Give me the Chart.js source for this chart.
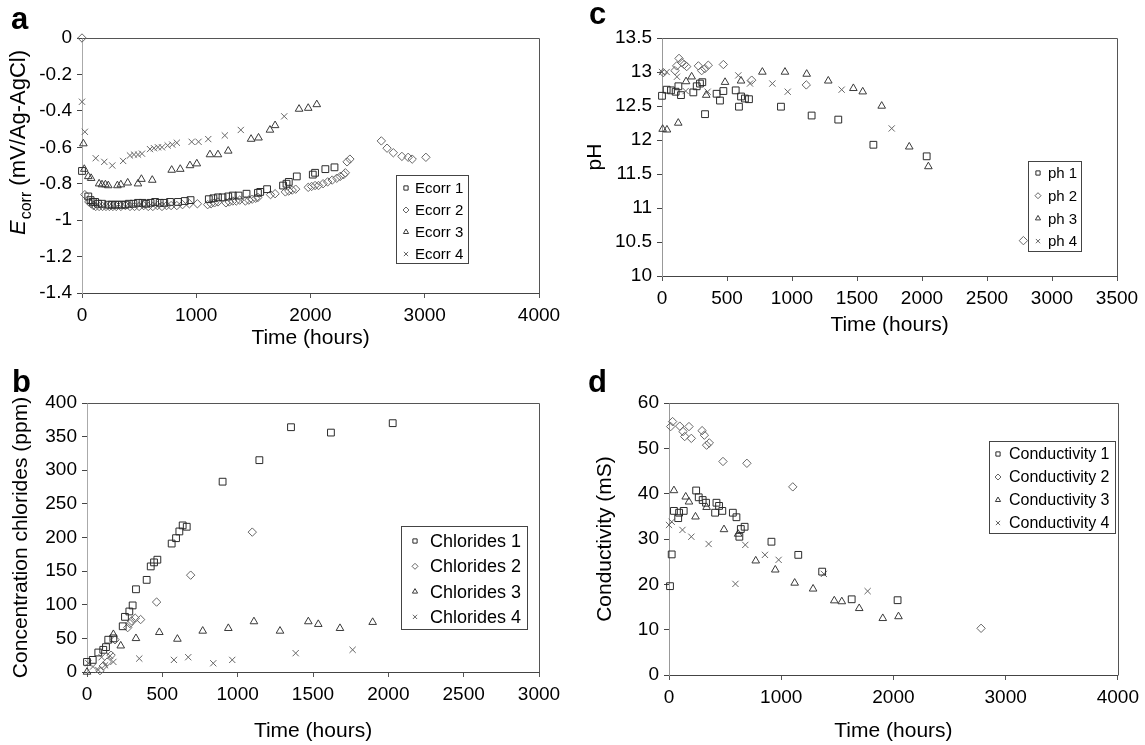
<!DOCTYPE html>
<html>
<head>
<meta charset="utf-8">
<script src="https://cdn.jsdelivr.net/npm/chart.js@4.4.1/dist/chart.umd.min.js"></script>
<style>
  html, body { margin: 0; padding: 0; background: #fff; }
  #wrap { position: relative; width: 1145px; height: 745px; overflow: hidden; }
  canvas { position: absolute; }
  .tag { position: absolute; font: bold 31px "Liberation Sans", Arial, sans-serif; line-height: 30px; color: #000; }
</style>
</head>
<body>
<div id="wrap">
  <canvas id="chartA" width="572" height="360" style="left:0;top:0"></canvas>
  <canvas id="chartC" width="573" height="360" style="left:572px;top:0"></canvas>
  <canvas id="chartB" width="572" height="385" style="left:0;top:360px"></canvas>
  <canvas id="chartD" width="573" height="385" style="left:572px;top:360px"></canvas>
  <div class="tag" style="left:11px;top:4px">a</div>
  <div class="tag" style="left:589px;top:-1px">c</div>
  <div class="tag" style="left:12px;top:367px">b</div>
  <div class="tag" style="left:588px;top:367px">d</div>
</div>
<script>
// Textos de ejes
const timeTitle = "Time (hours)";
const ecorrTitleParts = ["E", "corr", " (mV/Ag-AgCl)"];
const phTitle = "pH";
const chloridesTitle = "Concentration chlorides (ppm)";
const conductivityTitle = "Conductivity (mS)";

// Etiquetas de series
const ecorrLabels = ["Ecorr 1", "Ecorr 2", "Ecorr 3", "Ecorr 4"];
const phLabels = ["ph 1", "ph 2", "ph 3", "ph 4"];
const chloridesLabels = ["Chlorides 1", "Chlorides 2", "Chlorides 3", "Chlorides 4"];
const conductivityLabels = ["Conductivity 1", "Conductivity 2", "Conductivity 3", "Conductivity 4"];

// Marcas de ejes
const ecorrYTicks = [0, -0.2, -0.4, -0.6, -0.8, -1, -1.2, -1.4];
const ecorrXTicks = [0, 1000, 2000, 3000, 4000];
const phYTicks = [10, 10.5, 11, 11.5, 12, 12.5, 13, 13.5];
const phXTicks = [0, 500, 1000, 1500, 2000, 2500, 3000, 3500];
const chloridesYTicks = [0, 50, 100, 150, 200, 250, 300, 350, 400];
const chloridesXTicks = [0, 500, 1000, 1500, 2000, 2500, 3000];
const conductivityYTicks = [0, 10, 20, 30, 40, 50, 60];
const conductivityXTicks = [0, 1000, 2000, 3000, 4000];

// Panel a: Ecorr
const ecorr1X = [0, 55, 75, 95, 115, 140, 175, 230, 260, 290,
  320, 350, 380, 410, 450, 490, 530, 560, 600, 640,
  680, 720, 770, 840, 900, 950, 1110, 1150, 1190, 1230,
  1280, 1320, 1370, 1440, 1540, 1560, 1620, 1760, 1790, 1810,
  1880, 2020, 2040, 2130, 2210];
const ecorr1Y = [-0.73, -0.87, -0.89, -0.9, -0.9, -0.91, -0.91, -0.915, -0.915, -0.915,
  -0.915, -0.915, -0.915, -0.91, -0.91, -0.905, -0.905, -0.91, -0.905, -0.9,
  -0.905, -0.905, -0.9, -0.9, -0.895, -0.89, -0.885, -0.88, -0.875, -0.875,
  -0.87, -0.865, -0.865, -0.855, -0.85, -0.845, -0.83, -0.81, -0.8, -0.79,
  -0.76, -0.75, -0.74, -0.72, -0.71];
const ecorr2X = [0, 25, 60, 80, 100, 120, 150, 180, 210, 240,
  270, 300, 340, 380, 420, 460, 500, 540, 580, 620,
  660, 700, 740, 780, 830, 880, 940, 1010, 1100, 1130,
  1160, 1190, 1260, 1290, 1320, 1350, 1380, 1430, 1460, 1490,
  1520, 1540, 1650, 1690, 1780, 1810, 1840, 1870, 1980, 2010,
  2040, 2070, 2110, 2150, 2190, 2230, 2260, 2290, 2305, 2320,
  2345, 2620, 2670, 2725, 2800, 2855, 2890, 3010];
const ecorr2Y = [0, -0.86, -0.9, -0.91, -0.92, -0.925, -0.925, -0.925, -0.925, -0.925,
  -0.925, -0.925, -0.925, -0.92, -0.925, -0.925, -0.925, -0.92, -0.925, -0.925,
  -0.92, -0.925, -0.92, -0.92, -0.92, -0.915, -0.91, -0.91, -0.915, -0.91,
  -0.905, -0.9, -0.905, -0.9, -0.895, -0.895, -0.89, -0.895, -0.89, -0.885,
  -0.88, -0.875, -0.86, -0.855, -0.845, -0.84, -0.835, -0.83, -0.82, -0.815,
  -0.81, -0.81, -0.8, -0.79, -0.78, -0.77, -0.76, -0.75, -0.74, -0.68,
  -0.665, -0.565, -0.605, -0.63, -0.65, -0.655, -0.665, -0.655];
const ecorr3X = [12, 20, 55, 80, 150, 175, 205, 230, 310, 340,
  400, 490, 520, 615, 785, 860, 945, 1005, 1120, 1190,
  1280, 1480, 1545, 1645, 1690, 1900, 1980, 2055];
const ecorr3Y = [-0.58, -0.72, -0.76, -0.77, -0.8, -0.805, -0.805, -0.81, -0.81, -0.805,
  -0.795, -0.8, -0.775, -0.78, -0.725, -0.72, -0.7, -0.69, -0.64, -0.64,
  -0.62, -0.555, -0.548, -0.505, -0.48, -0.39, -0.385, -0.365];
const ecorr4X = [0, 25, 120, 195, 265, 360, 420, 455, 490, 525,
  595, 630, 665, 700, 750, 790, 830, 960, 1020, 1105,
  1250, 1390, 1770];
const ecorr4Y = [-0.35, -0.515, -0.66, -0.68, -0.7, -0.675, -0.645, -0.64, -0.64, -0.635,
  -0.61, -0.605, -0.6, -0.6, -0.59, -0.585, -0.575, -0.57, -0.57, -0.555,
  -0.535, -0.505, -0.43];

// Panel c: pH
const ph1X = [0, 36, 69, 105, 126, 146, 241, 267, 292, 310, 331, 420, 446, 472, 567, 592, 608, 638, 669, 915, 1151, 1356, 1626, 2036];
const ph1Y = [12.65, 12.74, 12.73, 12.71, 12.79, 12.66, 12.7, 12.79, 12.83, 12.85, 12.38, 12.68, 12.58, 12.72, 12.73, 12.49, 12.64, 12.61, 12.6, 12.49, 12.36, 12.3, 11.93, 11.76];
const ph2X = [10, 100, 113, 131, 151, 171, 190, 280, 305, 330, 356, 472, 690, 1110, 2780];
const ph2Y = [12.99, 13.02, 13.09, 13.2, 13.14, 13.11, 13.08, 13.09, 13.02, 13.05, 13.1, 13.11, 12.88, 12.81, 10.52];
const ph3X = [5, 38, 125, 185, 228, 340, 485, 608, 772, 946, 1113, 1279, 1472, 1544, 1690, 1902, 2049];
const ph3Y = [12.16, 12.15, 12.25, 12.86, 12.93, 12.66, 12.85, 12.87, 13.0, 13.0, 12.97, 12.87, 12.76, 12.71, 12.5, 11.9, 11.61];
const ph4X = [0, 36, 115, 182, 351, 587, 677, 849, 967, 1382, 1767];
const ph4Y = [13.0, 13.0, 12.93, 12.72, 12.71, 12.95, 12.83, 12.83, 12.71, 12.74, 12.17];

// Panel b: cloruros
const chlorides1X = [0, 38, 75, 108, 126, 141, 175, 237, 252, 281, 303, 325, 396, 423, 445, 467, 562, 591, 613, 635, 662, 900, 1144, 1354, 1619, 2029];
const chlorides1Y = [15, 18, 29, 33, 37, 48, 50, 68, 82, 90, 99, 123, 137, 157, 163, 167, 191, 199, 209, 218, 216, 283, 315, 364, 356, 370];
const chlorides2X = [86, 108, 135, 160, 186, 270, 285, 296, 320, 356, 462, 688, 1097];
const chlorides2Y = [2, 9, 15, 25, 48, 66, 72, 76, 80, 78, 104, 144, 208];
const chlorides3X = [0, 175, 224, 325, 480, 600, 768, 938, 1108, 1281, 1469, 1535, 1679, 1896];
const chlorides3Y = [0, 56, 39, 50, 59, 49, 61, 65, 75, 61, 75, 71, 65, 74];
const chlorides4X = [9, 40, 75, 97, 120, 153, 175, 347, 577, 672, 838, 964, 1385, 1763];
const chlorides4Y = [13, 8, 3, 22, 10, 24, 15, 20, 18, 22, 13, 18, 28, 33];

// Panel d: conductividad
const conductivity1X = [9, 24, 44, 82, 90, 131, 242, 265, 300, 330, 411, 423, 446, 475, 569, 601, 627, 640, 674, 913, 1152, 1365, 1628, 2037];
const conductivity1Y = [19.6, 26.6, 36.2, 34.6, 35.8, 36.2, 40.7, 39.2, 38.6, 38, 35.8, 38, 37.3, 36.2, 35.8, 34.8, 30.5, 32.2, 32.7, 29.4, 26.5, 22.8, 16.7, 16.5];
const conductivity2X = [15, 32, 96, 125, 140, 178, 199, 295, 315, 335, 359, 481, 694, 1103, 2781];
const conductivity2Y = [54.8, 55.9, 54.9, 53.7, 52.6, 54.8, 52.2, 53.9, 52.9, 50.7, 51.2, 47.1, 46.7, 41.5, 10.3];
const conductivity3X = [44, 149, 178, 236, 335, 490, 616, 773, 947, 1120, 1284, 1473, 1540, 1695, 1905, 2045];
const conductivity3Y = [40.7, 39.3, 38.2, 34.9, 37, 32.1, 31.1, 25.2, 23.2, 20.3, 19, 16.4, 16.2, 14.7, 12.5, 12.9];
const conductivity4X = [0, 24, 120, 199, 353, 592, 680, 855, 977, 1380, 1770];
const conductivity4Y = [33.1, 33.8, 32, 30.5, 28.9, 20.1, 28.7, 26.5, 25.4, 22.3, 18.5];

const FONT = '"Liberation Sans", Arial, Helvetica, sans-serif';

// Estilo de marcadores: cuadrado, rombo, triángulo, cruz
const markerStyles = [
  { pointStyle: "rect", radius: 4.8, color: "#2b2b2b" },
  { pointStyle: "rectRot", radius: 4.2, color: "#666" },
  { pointStyle: "triangle", radius: 4.4, color: "#3a3a3a" },
  { pointStyle: "crossRot", radius: 4.4, color: "#666" }
];

// Dibujar un marcador pequeño (para la leyenda)
const drawMarker = (ctx, style, x, y, r) => {
  ctx.beginPath();
  if (style === "rect") {
    const s = r * Math.SQRT1_2;
    ctx.rect(x - s, y - s, 2 * s, 2 * s);
  } else if (style === "rectRot") {
    ctx.moveTo(x, y - r); ctx.lineTo(x + r, y); ctx.lineTo(x, y + r); ctx.lineTo(x - r, y); ctx.closePath();
  } else if (style === "triangle") {
    const w = r * Math.sin(Math.PI / 3);
    ctx.moveTo(x, y - r); ctx.lineTo(x + w, y + r / 2); ctx.lineTo(x - w, y + r / 2); ctx.closePath();
  } else {
    const s = r * Math.SQRT1_2;
    ctx.moveTo(x - s, y - s); ctx.lineTo(x + s, y + s);
    ctx.moveTo(x + s, y - s); ctx.lineTo(x - s, y + s);
  }
  ctx.stroke();
};

// Marco superior y derecho del área de trazado
const frame = {
  id: "frame",
  beforeDatasetsDraw(chart) {
    const { ctx, chartArea: a } = chart;
    ctx.save();
    ctx.strokeStyle = "#555";
    ctx.lineWidth = 1;
    ctx.beginPath();
    ctx.moveTo(Math.round(a.left) + 0.5, Math.round(a.top) + 0.5);
    ctx.lineTo(Math.round(a.right) + 0.5, Math.round(a.top) + 0.5);
    ctx.lineTo(Math.round(a.right) + 0.5, Math.round(a.bottom) + 0.5);
    ctx.stroke();
    ctx.restore();
  }
};

// Leyenda con caja dentro del gráfico
const boxLegend = {
  id: "boxLegend",
  afterDraw(chart, args, o) {
    if (!o || o.x === undefined) return;
    const ctx = chart.ctx;
    ctx.save();
    ctx.fillStyle = "#fff";
    ctx.fillRect(o.x, o.y, o.w, o.h);
    ctx.strokeStyle = "#444";
    ctx.lineWidth = 1;
    ctx.strokeRect(o.x + 0.5, o.y + 0.5, o.w, o.h);
    ctx.font = `${o.size}px ${FONT}`;
    ctx.textBaseline = "middle";
    chart.data.datasets.forEach((ds, i) => {
      const cy = o.y + o.first + i * o.step;
      ctx.strokeStyle = ds.borderColor;
      ctx.lineWidth = 1;
      drawMarker(ctx, ds.pointStyle, o.mx, cy, o.mr);
      ctx.fillStyle = "#000";
      ctx.fillText(ds.label, o.tx, cy + 1);
    });
    ctx.restore();
  }
};

// Título del eje Y con subíndice (panel a)
const ecorrTitle = {
  id: "ecorrTitle",
  afterDraw(chart, args, o) {
    const ctx = chart.ctx;
    const [main, sub, rest] = ecorrTitleParts;
    const f1 = `italic ${o.size}px ${FONT}`;
    const f2 = `${Math.round(o.size * 0.72)}px ${FONT}`;
    const f3 = `${o.size}px ${FONT}`;
    ctx.save();
    ctx.font = f1; const w1 = ctx.measureText(main).width;
    ctx.font = f2; const w2 = ctx.measureText(sub).width;
    ctx.font = f3; const w3 = ctx.measureText(rest).width;
    ctx.translate(o.x, o.y);
    ctx.rotate(-Math.PI / 2);
    ctx.fillStyle = "#000";
    let x = -(w1 + w2 + w3) / 2;
    const base = o.size * 0.36;
    ctx.font = f1; ctx.fillText(main, x, base); x += w1 + 1;
    ctx.font = f2; ctx.fillText(sub, x, base + o.size * 0.28); x += w2;
    ctx.font = f3; ctx.fillText(rest, x, base);
    ctx.restore();
  }
};

Chart.register(frame, boxLegend);

const makeSets = (labels, xs, ys) => labels.map((label, i) => ({
  label,
  data: xs[i].map((x, j) => ({ x, y: ys[i][j] })),
  pointStyle: markerStyles[i].pointStyle,
  pointRadius: markerStyles[i].radius,
  pointHoverRadius: markerStyles[i].radius,
  borderColor: markerStyles[i].color,
  backgroundColor: "rgba(255,255,255,0)",
  borderWidth: 1,
  clip: false
}));

const makeAxis = (ticks, min, max, o) => ({
  type: "linear",
  min, max,
  afterBuildTicks: (s) => { s.ticks = ticks.map((v) => ({ value: v })); },
  afterFit: (s) => {
    if (o.width) s.width = o.width;
    if (o.height) s.height = o.height;
  },
  grid: { drawOnChartArea: false, drawTicks: true, tickLength: 5, color: o.tickColor },
  border: { color: o.lineColor, width: 1 },
  ticks: {
    color: "#000",
    font: { family: FONT, size: 19 },
    padding: o.pad,
    autoSkip: false,
    maxRotation: 0,
    callback: (v) => String(v)
  },
  title: o.title
    ? { display: true, text: o.title, color: "#000", font: { family: FONT, size: 21 }, padding: o.titlePad }
    : { display: false }
});

const makePanel = (id, cfg) => new Chart(document.getElementById(id), {
  type: "scatter",
  data: { datasets: makeSets(cfg.labels, cfg.xs, cfg.ys) },
  options: {
    responsive: false,
    animation: false,
    events: [],
    layout: { padding: cfg.padding },
    scales: { x: cfg.x, y: cfg.y },
    plugins: {
      legend: { display: false },
      tooltip: { enabled: false },
      boxLegend: cfg.legend,
      ecorrTitle: cfg.ecorrTitle || {}
    }
  },
  plugins: cfg.extra || []
});

// Panel a
makePanel("chartA", {
  labels: ecorrLabels,
  xs: [ecorr1X, ecorr2X, ecorr3X, ecorr4X],
  ys: [ecorr1Y, ecorr2Y, ecorr3Y, ecorr4Y],
  padding: { left: 0, top: 38, right: 33, bottom: 0 },
  x: makeAxis(ecorrXTicks, 0, 4000, { height: 67, tickColor: "#555", lineColor: "#444", pad: 6, title: timeTitle, titlePad: { top: 0, bottom: 9 } }),
  y: makeAxis(ecorrYTicks, -1.4, 0, { width: 82, tickColor: "#444", lineColor: "#aaa", pad: 5 }),
  legend: { x: 396, y: 175, w: 72, h: 88, first: 13, step: 22, mx: 406, mr: 3, tx: 415, size: 15 },
  ecorrTitle: { x: 17, y: 143, size: 22 },
  extra: [ecorrTitle]
});

// Panel c
makePanel("chartC", {
  labels: phLabels,
  xs: [ph1X, ph2X, ph3X, ph4X],
  ys: [ph1Y, ph2Y, ph3Y, ph4Y],
  padding: { left: 0, top: 38, right: 28, bottom: 0 },
  x: makeAxis(phXTicks, 0, 3500, { height: 84, tickColor: "#555", lineColor: "#444", pad: 6, title: timeTitle, titlePad: { top: 0, bottom: 22 } }),
  y: makeAxis(phYTicks, 10, 13.5, { width: 90, tickColor: "#444", lineColor: "#999", pad: 5, title: phTitle, titlePad: { top: 11, bottom: 0 } }),
  legend: { x: 456, y: 161, w: 53, h: 90, first: 12, step: 22.7, mx: 466, mr: 3, tx: 476, size: 15 }
});

// Panel b
makePanel("chartB", {
  labels: chloridesLabels,
  xs: [chlorides1X, chlorides2X, chlorides3X, chlorides4X],
  ys: [chlorides1Y, chlorides2Y, chlorides3Y, chlorides4Y],
  padding: { left: 0, top: 43, right: 33, bottom: 0 },
  x: makeAxis(chloridesXTicks, 0, 3000, { height: 73, tickColor: "#555", lineColor: "#444", pad: 6, title: timeTitle, titlePad: { top: 0, bottom: 1 } }),
  y: makeAxis(chloridesYTicks, 0, 400, { width: 87, tickColor: "#444", lineColor: "#aaa", pad: 5, title: chloridesTitle, titlePad: { top: 9, bottom: 0 } }),
  legend: { x: 401, y: 166, w: 126, h: 103, first: 15, step: 25.3, mx: 415, mr: 3, tx: 430, size: 18 }
});

// Panel d
makePanel("chartD", {
  labels: conductivityLabels,
  xs: [conductivity1X, conductivity2X, conductivity3X, conductivity4X],
  ys: [conductivity1Y, conductivity2Y, conductivity3Y, conductivity4Y],
  padding: { left: 0, top: 43, right: 19, bottom: 0 },
  x: makeAxis(conductivityXTicks, 0, 4000, { height: 70, tickColor: "#555", lineColor: "#444", pad: 6, title: timeTitle, titlePad: { top: 0, bottom: 1 } }),
  y: makeAxis(conductivityYTicks, 0, 60, { width: 97, tickColor: "#444", lineColor: "#999", pad: 5, title: conductivityTitle, titlePad: { top: 21, bottom: 0 } }),
  legend: { x: 417, y: 81, w: 126, h: 92, first: 13, step: 23, mx: 426, mr: 3, tx: 437, size: 16 }
});
</script>
</body>
</html>
